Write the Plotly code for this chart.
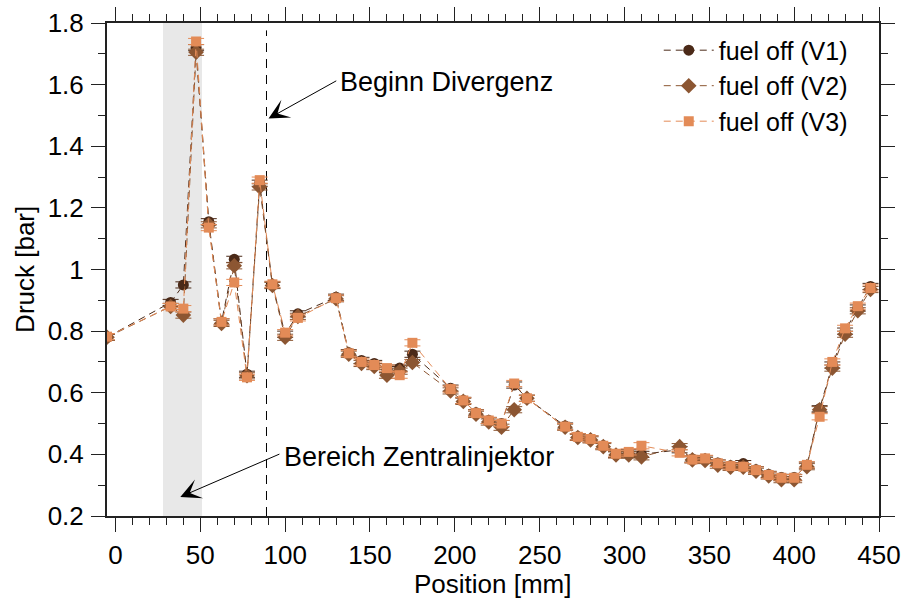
import plotly.graph_objects as go

# Measurement positions along the channel [mm]
position = [-5, 32.5, 40, 47.5, 55, 62.5, 70, 77.5, 85, 92.5, 100, 107.5,
            130, 137.5, 145, 152.5, 160, 167.5, 175, 197.5, 205, 212.5, 220,
            227.5, 235, 242.5, 265, 272.5, 280, 287.5, 295, 302.5, 310,
            332.5, 340, 347.5, 355, 362.5, 370, 377.5, 385, 392.5, 400,
            407.5, 415, 422.5, 430, 437.5, 445]

# Wall pressure [bar] for the three fuel-off runs
druck_v1 = [0.78, 0.893, 0.95, 1.72, 1.155, 0.83, 1.033, 0.66, 1.28, 0.95, 0.79, 0.856,
            0.91, 0.73, 0.705, 0.695, 0.675, 0.68, 0.725, 0.615, 0.575, 0.535, 0.51,
            0.50, 0.625, 0.582, 0.492, 0.457, 0.45, 0.428, 0.40, 0.405, 0.40,
            0.415, 0.385, 0.385, 0.372, 0.363, 0.37, 0.35, 0.335, 0.325, 0.325,
            0.365, 0.548, 0.69, 0.80, 0.875, 0.945]
druck_v2 = [0.78, 0.88, 0.852, 1.705, 1.145, 0.825, 1.012, 0.655, 1.268, 0.948, 0.78, 0.848,
            0.905, 0.725, 0.695, 0.685, 0.657, 0.67, 0.698, 0.606, 0.572, 0.53, 0.505,
            0.488, 0.545, 0.582, 0.488, 0.455, 0.447, 0.425, 0.398, 0.398, 0.392,
            0.425, 0.382, 0.38, 0.365, 0.358, 0.358, 0.345, 0.33, 0.318, 0.318,
            0.36, 0.545, 0.68, 0.79, 0.866, 0.935]
druck_v3 = [0.782, 0.88, 0.873, 1.74, 1.136, 0.83, 0.958, 0.65, 1.29, 0.952, 0.795, 0.843,
            0.907, 0.728, 0.70, 0.69, 0.68, 0.657, 0.762, 0.612, 0.575, 0.534, 0.51,
            0.50, 0.63, 0.582, 0.49, 0.457, 0.45, 0.428, 0.402, 0.408, 0.428,
            0.405, 0.383, 0.387, 0.371, 0.362, 0.36, 0.349, 0.333, 0.324, 0.324,
            0.366, 0.522, 0.70, 0.809, 0.881, 0.94]

series_names = ["fuel off (V1)", "fuel off (V2)", "fuel off (V3)"]
series_values = [druck_v1, druck_v2, druck_v3]
series_colors = ["#4b2a18", "#8c5632", "#e38b57"]
series_symbols = ["circle", "diamond", "square"]
series_sizes = [11, 12, 10]
messfehler = 0.01

injektor_bereich = (28, 51)
divergenz_start = 89

FONT = "Liberation Sans, Arial, sans-serif"

fig = go.Figure()

for name, vals, col, sym, size in zip(series_names, series_values, series_colors,
                                      series_symbols, series_sizes):
    fig.add_trace(go.Scatter(
        x=position, y=vals, name=name, mode="lines+markers",
        line=dict(color=col, width=1, dash="7px,5px"),
        marker=dict(symbol=sym, size=size, color=col, line=dict(width=0)),
        error_y=dict(type="constant", value=messfehler, color=col,
                     thickness=1, width=8),
    ))

# Injector region and start of divergent section
fig.add_shape(type="rect", xref="x", yref="paper",
              x0=injektor_bereich[0], x1=injektor_bereich[1], y0=0, y1=1,
              fillcolor="#e8e8e8", line=dict(width=0), layer="below")
fig.add_shape(type="line", xref="x", yref="paper",
              x0=divergenz_start, x1=divergenz_start, y0=0, y1=0.985,
              line=dict(color="black", width=1, dash="9px,7px"), layer="below")

# Arrow annotations
fig.add_annotation(x=90.2, y=1.49, ax=131, ay=1.615, xref="x", yref="y",
                   axref="x", ayref="y", text="", showarrow=True,
                   arrowhead=3, arrowsize=3.4, arrowwidth=1, arrowcolor="black")
fig.add_annotation(x=131, y=1.607, xref="x", yref="y", text="Beginn Divergenz",
                   showarrow=False, xanchor="left", yanchor="middle",
                   font=dict(family=FONT, size=27, color="black"))
fig.add_annotation(x=38.2, y=0.262, ax=97.5, ay=0.403, xref="x", yref="y",
                   axref="x", ayref="y", text="", showarrow=True,
                   arrowhead=3, arrowsize=3.4, arrowwidth=1, arrowcolor="black")
fig.add_annotation(x=98.2, y=0.392, xref="x", yref="y", text="Bereich Zentralinjektor",
                   showarrow=False, xanchor="left", yanchor="middle",
                   font=dict(family=FONT, size=27, color="black"))

# Axis titles
fig.add_annotation(x=0.5, y=-0.137, xref="paper", yref="paper", text="Position [mm]",
                   showarrow=False, xanchor="center", yanchor="middle",
                   font=dict(family=FONT, size=26, color="black"))
fig.add_annotation(x=-0.107, y=0.5, xref="paper", yref="paper", text="Druck [bar]",
                   showarrow=False, xanchor="center", yanchor="middle", textangle=-90,
                   font=dict(family=FONT, size=26, color="black"))

axis_common = dict(showline=True, linecolor="#222222", linewidth=2, mirror="ticks",
                   ticks="outside", tickcolor="#222222", tickwidth=1, ticklen=14,
                   showgrid=False, zeroline=False, automargin=False,
                   tickfont=dict(family=FONT, size=26, color="black"))

fig.update_xaxes(range=[-5, 450], dtick=50, tick0=0,
                 minor=dict(dtick=10, ticks="outside", ticklen=7, tickcolor="#222222"),
                 ticklabelstandoff=1, **axis_common)
fig.update_yaxes(range=[0.2, 1.8], dtick=0.2, tick0=0.2,
                 minor=dict(dtick=0.1, ticks="outside", ticklen=7, tickcolor="#222222"),
                 ticklabelstandoff=2, **axis_common)

fig.update_layout(
    width=903, height=599,
    margin=dict(l=107, r=24, t=23, b=83),
    plot_bgcolor="white", paper_bgcolor="white",
    font=dict(family=FONT, size=26, color="black"),
    legend=dict(x=0.966, y=0.991, xanchor="right", yanchor="top",
                bgcolor="rgba(0,0,0,0)", font=dict(family=FONT, size=25),
                itemwidth=50, tracegroupgap=0),
    showlegend=True,
)

fig.write_html("out.html")
